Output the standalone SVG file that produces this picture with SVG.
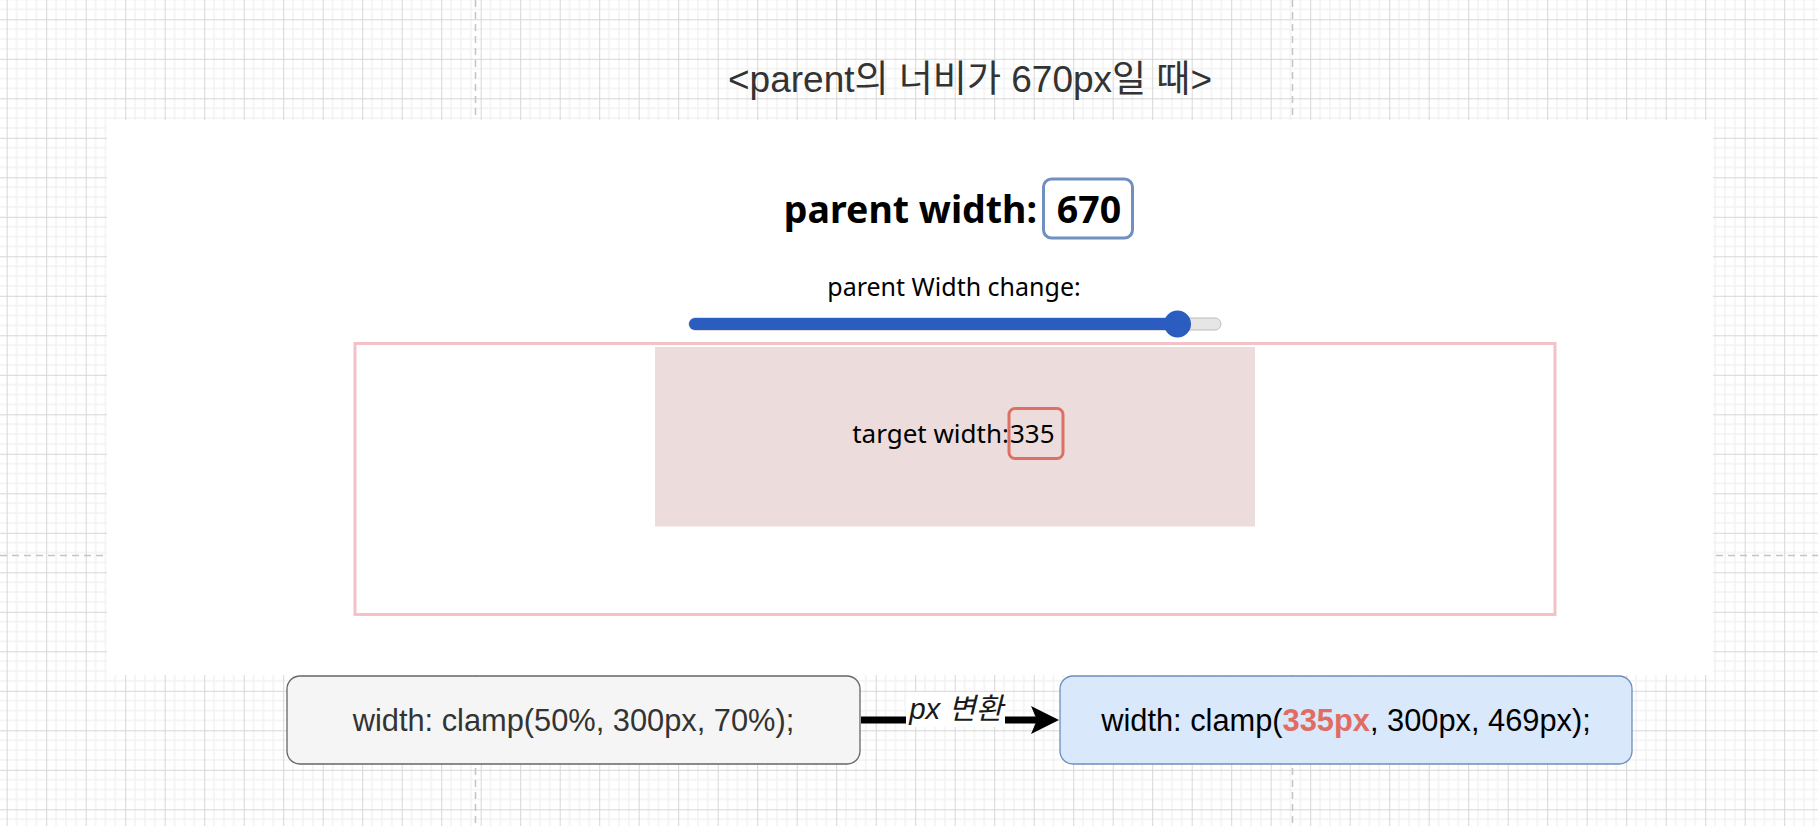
<svg xmlns="http://www.w3.org/2000/svg" width="1818" height="826" viewBox="0 0 1818 826">
  <defs>
    <pattern id="grid" patternUnits="userSpaceOnUse" x="6.7" y="19.3" width="39.5" height="39.5">
      <path d="M9.875,0V39.5M19.75,0V39.5M29.625,0V39.5M0,9.875H39.5M0,19.75H39.5M0,29.625H39.5" stroke="#f2f2f2" stroke-width="1.5" fill="none"/>
      <path d="M0.5,0V39.5M0,0.5H39.5" stroke="#d6d6d6" stroke-width="1" fill="none"/>
    </pattern>
    <marker id="arr" viewBox="0 0 28 28" refX="9" refY="14" markerWidth="28" markerHeight="28" markerUnits="userSpaceOnUse" orient="auto">
      <path d="M0,0 L28,14 L0,28 L6,14 Z" fill="#000"/>
    </marker>
    <style>
      .page{stroke:#c4c4c4;stroke-width:1.5;stroke-dasharray:7 5;fill:none}
      .ko{font-family:"Liberation Sans","Noto Sans CJK KR",sans-serif}
      .ns{font-family:"Noto Sans","Noto Sans CJK KR",sans-serif}
      .lib{font-family:"Liberation Sans",Arial,sans-serif}
    </style>
  </defs>

  <rect width="1818" height="826" fill="#ffffff"/>
  <rect width="1818" height="826" fill="url(#grid)"/>
  <g id="page-breaks">
    <line class="page" x1="475.5" y1="0" x2="475.5" y2="826"/>
    <line class="page" x1="1292.5" y1="0" x2="1292.5" y2="826"/>
    <line class="page" x1="0" y1="555.5" x2="1818" y2="555.5"/>
  </g>

  <g id="title">
    <text class="ko" x="970" y="92" font-size="37" fill="#333333" text-anchor="middle">&lt;parent의 너비가 670px일 때&gt;</text>
  </g>

  <g id="parent-panel">
    <rect x="107" y="120" width="1606" height="555" fill="#ffffff"/>
    <g id="parent-width-label">
      <text class="ns" x="1037" y="223" font-size="37.5" font-weight="bold" fill="#000" text-anchor="end">parent width:</text>
      <rect x="1043.5" y="179" width="89" height="59" rx="8" fill="none" stroke="#7090c0" stroke-width="3"/>
      <text class="ns" x="1089" y="223" font-size="37.5" font-weight="bold" fill="#000" text-anchor="middle">670</text>
    </g>
    <g id="slider">
      <text class="ns" x="954" y="296" font-size="25" fill="#000" text-anchor="middle">parent Width change:</text>
      <rect x="689" y="318" width="532" height="12" rx="6" fill="#e6e6e6" stroke="#bdbdbd" stroke-width="1"/>
      <rect x="689" y="318" width="490" height="12" rx="6" fill="#2b5cc0"/>
      <circle cx="1177.5" cy="324" r="13.5" fill="#2b5cc0"/>
    </g>
    <g id="parent-box">
      <rect x="355" y="343.5" width="1200" height="271" fill="none" stroke="#f4c1c7" stroke-width="3"/>
    </g>
    <g id="target-box">
      <rect x="655" y="347" width="600" height="179.5" fill="#ecdcdc"/>
      <text class="ns" x="1009" y="443" font-size="26" fill="#000" text-anchor="end">target width:</text>
      <rect x="1009" y="408.5" width="54" height="50" rx="6" fill="none" stroke="#dd7065" stroke-width="3"/>
      <text class="ns" x="1010" y="443" font-size="26" fill="#000">335</text>
    </g>
  </g>

  <g id="connectors">
    <line x1="861" y1="720" x2="1040" y2="720" stroke="#000" stroke-width="7" marker-end="url(#arr)"/>
    <rect x="906" y="692" width="99" height="35" fill="#ffffff"/>
    <text class="ko" x="956" y="719" font-size="29.5" font-style="italic" fill="#1a1a1a" text-anchor="middle">px 변환</text>
  </g>

  <g id="node-percent">
    <rect x="287" y="676" width="573" height="88" rx="13" fill="#f5f5f5" stroke="#666666" stroke-width="1.3"/>
    <text class="lib" x="573.5" y="731" font-size="30.8" fill="#333333" text-anchor="middle">width: clamp(50%, 300px, 70%);</text>
  </g>

  <g id="node-px">
    <rect x="1060" y="676" width="572" height="88" rx="13" fill="#dae8fc" stroke="#6c8ebf" stroke-width="1.3"/>
    <text class="lib" x="1346" y="731" font-size="30.8" fill="#000" text-anchor="middle">width: clamp(<tspan font-weight="bold" fill="#e06c63">335px</tspan>, 300px, 469px);</text>
  </g>
</svg>
